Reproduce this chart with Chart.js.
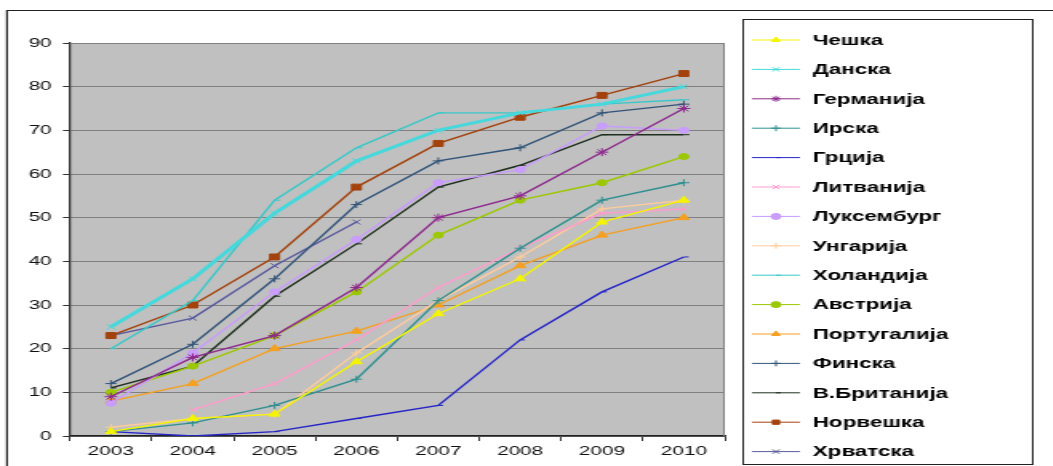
<!DOCTYPE html>
<html>
<head>
<meta charset="utf-8">
<script src="https://cdn.jsdelivr.net/npm/chart.js@4.4.1/dist/chart.umd.min.js"></script>
<style>
html, body { margin: 0; padding: 0; background: #fff; overflow: hidden; }
/* the original picture is stretched sideways, so the canvas is too */
#wrap { width: 658px; height: 466px; transform: scaleX(1.6); transform-origin: 0 0; }
</style>
</head>
<body>
<div id="wrap"><canvas id="myChart" width="658" height="466"></canvas></div>
<script>
const years = ['2003', '2004', '2005', '2006', '2007', '2008', '2009', '2010'];
const yTicks = [0, 10, 20, 30, 40, 50, 60, 70, 80, 90];

const cheska      = [1, 4, 5, 17, 28, 36, 49, 54];
const danska      = [25, 36, 51, 63, 70, 74, 76, 80];
const germanija   = [9, 18, 23, 34, 50, 55, 65, 75];
const irska       = [1, 3, 7, 13, 31, 43, 54, 58];
const grcija      = [1, 0, 1, 4, 7, 22, 33, 41];
const litvanija   = [null, 6, 12, 22, 34, 43, 51, 52];
const luksemburg  = [7.5, 19, 33, 45, 58, 61, 71, 70];
const ungarija    = [2, 4, 5, 19, 31, 41, 52, 54];
const holandija   = [20, 31, 54, 66, 74, 74, 76, 77];
const avstrija    = [10, 16, 23, 33, 46, 54, 58, 64];
const portugalija = [8, 12, 20, 24, 30, 39, 46, 50];
const finska      = [12, 21, 36, 53, 63, 66, 74, 76];
const britanija   = [11, 16, 32, 44, 57, 62, 69, 69];
const norveska    = [23, 30, 41, 57, 67, 73, 78, 83];
const hrvatska    = [23, 27, 39, 49, null, null, null, null];

function series(label, data, color, style, radius, width) {
    return {
        label: label,
        data: data,
        borderColor: color,
        backgroundColor: color,
        pointBackgroundColor: color,
        pointBorderColor: color,
        pointStyle: style,
        pointRadius: radius,
        pointBorderWidth: 1,
        borderWidth: width || 1.4,
        tension: 0,
        spanGaps: false
    };
}

const datasets = [
    series('Чешка', cheska, '#f5f500', 'triangle', 4),
    series('Данска', danska, '#45d8dc', 'crossRot', 3.5, 3),
    series('Германија', germanija, '#8e2a8e', 'star', 4),
    series('Ирска', irska, '#2f9090', 'cross', 3.5),
    series('Грција', grcija, '#2525c8', 'dash', 3),
    series('Литванија', litvanija, '#ff9ccc', 'crossRot', 3.5),
    series('Луксембург', luksemburg, '#c99cff', 'circle', 3),
    series('Унгарија', ungarija, '#ffcc9c', 'cross', 3.5),
    series('Холандија', holandija, '#38c8c8', 'dash', 3.5),
    series('Австрија', avstrija, '#9cc800', 'circle', 3),
    series('Португалија', portugalija, '#f5a020', 'triangle', 4),
    series('Финска', finska, '#33557a', 'cross', 3.5),
    series('В.Британија', britanija, '#1f2f1f', 'dash', 3.5),
    series('Норвешка', norveska, '#a3420c', 'rect', 4.2),
    series('Хрватска', hrvatska, '#5a5a9e', 'crossRot', 3.5)
];

const frame = {
    id: 'frame',
    beforeDraw(chart) {
        const ctx = chart.ctx, a = chart.chartArea;
        ctx.save();
        ctx.fillStyle = '#ffffff';
        ctx.fillRect(0, 0, chart.width, chart.height);
        ctx.fillStyle = '#c0c0c0';
        ctx.fillRect(a.left, a.top, a.right - a.left, a.bottom - a.top);
        ctx.strokeStyle = '#222';
        ctx.lineWidth = 1.2;
        ctx.beginPath();
        ctx.moveTo(4.4, chart.height);
        ctx.lineTo(4.4, 10.5);
        ctx.lineTo(chart.width, 10.5);
        ctx.stroke();
        ctx.restore();
    },
    afterDraw(chart) {
        const ctx = chart.ctx, a = chart.chartArea;
        ctx.save();
        ctx.strokeStyle = '#808080';
        ctx.lineWidth = 1;
        ctx.beginPath();
        ctx.moveTo(a.left, a.top + 0.5);
        ctx.lineTo(a.right - 0.5, a.top + 0.5);
        ctx.lineTo(a.right - 0.5, a.bottom);
        ctx.stroke();

        // legend box
        ctx.strokeStyle = '#222';
        ctx.lineWidth = 1;
        ctx.strokeRect(464.5, 19.5, 181, 445);
        chart.data.datasets.forEach((ds, i) => {
            const y = 40 + i * 29.4;
            ctx.strokeStyle = ds.borderColor;
            ctx.fillStyle = ds.borderColor;
            ctx.lineWidth = 1;
            ctx.beginPath();
            ctx.moveTo(470, y);
            ctx.lineTo(500, y);
            ctx.stroke();
            Chart.helpers.drawPoint(ctx, {pointStyle: ds.pointStyle, radius: Math.min(ds.pointRadius, 3), borderWidth: 1, rotation: 0}, 485, y);
            ctx.fillStyle = '#000';
            ctx.font = 'bold 14px "Liberation Sans", Arial, sans-serif';
            ctx.textBaseline = 'middle';
            ctx.textAlign = 'left';
            ctx.fillText(ds.label, 508, y + 1);
        });
        ctx.restore();
    }
};

const tickFont = {family: '"Liberation Sans", Arial, sans-serif', size: 13};

new Chart(document.getElementById('myChart').getContext('2d'), {
    type: 'line',
    data: { labels: years, datasets: datasets },
    plugins: [frame],
    options: {
        responsive: false,
        animation: false,
        devicePixelRatio: 1,
        layout: { padding: { left: 0, right: 205, top: 43, bottom: 0 } },
        plugins: { legend: { display: false }, tooltip: { enabled: false } },
        scales: {
            x: {
                offset: true,
                grid: { offset: true, drawOnChartArea: false, tickLength: 5, tickColor: '#333', color: '#333' },
                border: { color: '#222', width: 1.5 },
                ticks: { color: '#111', font: tickFont, padding: 3, maxRotation: 0 },
                afterFit(s) { s.height = 30; }
            },
            y: {
                min: 0,
                max: 90,
                afterBuildTicks(s) { s.ticks = yTicks.map(v => ({ value: v })); },
                grid: { color: '#808080', lineWidth: 1, tickLength: 4.4, tickColor: '#333' },
                border: { color: '#333', width: 1.3 },
                ticks: { color: '#111', font: tickFont, padding: 7 },
                afterFit(s) { s.width = 43.75; }
            }
        }
    }
});
</script>
</body>
</html>
